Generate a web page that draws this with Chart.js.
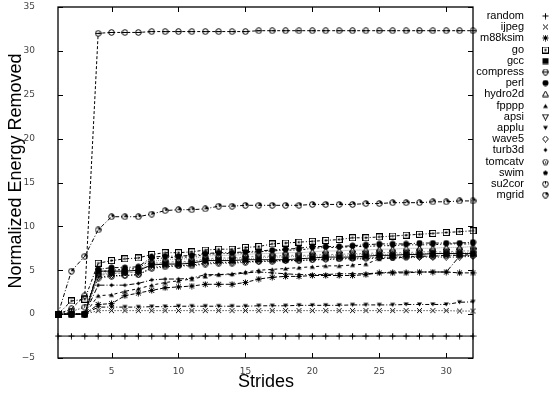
<!DOCTYPE html>
<html>
<head>
<meta charset="utf-8">
<script src="https://cdn.jsdelivr.net/npm/chart.js@4.4.1/dist/chart.umd.min.js"></script>
<style>
  html, body { margin: 0; padding: 0; background: #fff; }
</style>
</head>
<body>
<canvas id="chart" width="550" height="394"></canvas>
<script>
// Strides on the x axis
const strides = [1, 2, 3, 4, 5, 6, 7, 8, 9, 10, 11, 12, 13, 14, 15, 16,
  17, 18, 19, 20, 21, 22, 23, 24, 25, 26, 27, 28, 29, 30, 31, 32];
const xTickValues = [5, 10, 15, 20, 25, 30];

// Normalized energy removed, one array per benchmark
const random = [-2.5, -2.5, -2.5, -2.5, -2.5, -2.5, -2.5, -2.5, -2.5, -2.5, -2.5, -2.5, -2.5, -2.5, -2.5, -2.5,
  -2.5, -2.5, -2.5, -2.5, -2.5, -2.5, -2.5, -2.5, -2.5, -2.5, -2.5, -2.5, -2.5, -2.5, -2.5, -2.5];
const ijpeg = [0, 0, 0, 0.4, 0.4, 0.4, 0.4, 0.4, 0.4, 0.4, 0.4, 0.4, 0.4, 0.4, 0.4, 0.4,
  0.4, 0.4, 0.4, 0.4, 0.4, 0.4, 0.4, 0.4, 0.4, 0.4, 0.4, 0.4, 0.4, 0.4, 0.35, 0.35];
const m88ksim = [0, 0, 0, 1.1, 1.2, 2.1, 2.4, 2.7, 3.0, 3.1, 3.2, 3.4, 3.4, 3.4, 3.6, 4.0,
  4.2, 4.3, 4.3, 4.4, 4.4, 4.4, 4.4, 4.5, 4.7, 4.7, 4.7, 4.8, 4.8, 4.8, 4.7, 4.7];
const go = [0, 1.5, 1.7, 5.8, 6.1, 6.3, 6.4, 6.8, 7.0, 7.0, 7.1, 7.3, 7.4, 7.4, 7.6, 7.7,
  8.0, 8.1, 8.2, 8.3, 8.4, 8.5, 8.7, 8.7, 8.8, 8.9, 9.0, 9.1, 9.2, 9.3, 9.4, 9.5];
const gcc = [0, 0, 0, 4.9, 4.9, 4.9, 5.0, 5.6, 5.7, 5.7, 5.8, 6.1, 6.1, 6.1, 6.2, 6.2,
  6.2, 6.2, 6.3, 6.4, 6.5, 6.5, 6.5, 6.6, 6.7, 6.7, 6.8, 6.8, 6.9, 6.9, 6.9, 6.9];
const compress = [0, 0.6, 2.1, 32.0, 32.1, 32.1, 32.1, 32.2, 32.2, 32.2, 32.2, 32.2, 32.2, 32.2, 32.2, 32.3,
  32.3, 32.3, 32.3, 32.3, 32.3, 32.3, 32.3, 32.3, 32.3, 32.3, 32.3, 32.3, 32.3, 32.3, 32.3, 32.3];
const perl = [0, 0, 0, 5.1, 5.3, 5.3, 5.4, 6.5, 6.6, 6.6, 6.7, 6.9, 7.0, 7.0, 7.1, 7.2,
  7.3, 7.4, 7.5, 7.7, 7.7, 7.7, 7.8, 7.9, 8.0, 8.0, 8.0, 8.1, 8.1, 8.1, 8.1, 8.2];
const hydro2d = [0, 0, 0, 4.6, 4.8, 4.9, 5.0, 6.0, 6.2, 6.3, 6.3, 6.6, 6.7, 6.7, 6.8, 6.9,
  6.9, 7.0, 7.0, 7.1, 7.2, 7.2, 7.3, 7.3, 7.4, 7.4, 7.5, 7.5, 7.5, 7.6, 7.6, 7.7];
const fpppp = [0, 0, 0, 2.1, 2.2, 2.6, 2.9, 3.3, 3.6, 3.8, 4.0, 4.3, 4.5, 4.6, 4.8, 5.0,
  5.1, 5.2, 5.3, 5.4, 5.5, 5.5, 5.6, 5.7, 6.3, 6.4, 6.5, 6.6, 6.6, 6.7, 6.7, 6.8];
const apsi = [0, 0, 0, 4.4, 4.6, 4.7, 4.8, 5.8, 5.9, 6.0, 6.0, 6.3, 6.4, 6.4, 6.5, 6.6,
  6.6, 6.7, 6.7, 6.7, 6.8, 6.8, 6.9, 6.9, 7.0, 7.0, 7.0, 7.1, 7.1, 7.1, 7.2, 7.2];
const applu = [0, 0, 0, 0.8, 0.8, 0.8, 0.8, 0.85, 0.85, 0.9, 0.9, 0.9, 0.9, 0.9, 0.9, 0.95,
  0.95, 0.95, 1.0, 1.0, 1.0, 1.0, 1.05, 1.05, 1.05, 1.05, 1.1, 1.1, 1.1, 1.1, 1.35, 1.4];
const wave5 = [0, 0, 0, 4.2, 4.4, 4.4, 4.5, 5.3, 5.5, 5.5, 5.6, 5.8, 5.9, 5.9, 6.0, 6.0,
  6.1, 6.1, 6.1, 6.2, 6.2, 6.3, 6.3, 6.3, 6.4, 6.4, 6.4, 6.5, 6.5, 6.5, 6.5, 6.6];
const turb3d = [0, 0, 0, 3.3, 3.3, 3.3, 3.5, 3.9, 4.0, 4.0, 4.1, 4.5, 4.5, 4.5, 4.7, 4.8,
  4.7, 4.6, 4.5, 4.5, 4.5, 4.6, 4.6, 4.6, 4.7, 4.8, 4.8, 4.8, 4.8, 4.8, 6.6, 6.7];
const tomcatv = [0, 0, 0, 4.5, 4.7, 4.7, 4.8, 5.7, 5.8, 5.8, 5.9, 6.2, 6.2, 6.3, 6.3, 6.4,
  6.5, 6.5, 6.6, 6.6, 6.6, 6.7, 6.7, 6.8, 6.8, 6.8, 6.9, 6.9, 6.9, 7.0, 7.0, 7.0];
const swim = [0, 0, 0, 4.8, 5.0, 5.1, 5.2, 6.3, 6.4, 6.5, 6.5, 6.8, 6.9, 6.9, 7.0, 7.1,
  7.2, 7.3, 7.3, 7.5, 7.6, 7.6, 7.7, 7.7, 7.8, 7.8, 7.9, 7.9, 7.9, 8.0, 8.0, 8.0];
const su2cor = [0, 0.3, 0.8, 4.1, 4.3, 4.4, 4.5, 5.2, 5.4, 5.5, 5.5, 5.7, 5.8, 5.8, 5.9, 6.0,
  6.0, 6.1, 6.1, 6.2, 6.3, 6.3, 6.4, 6.4, 6.5, 6.5, 6.6, 6.6, 6.6, 6.7, 6.7, 6.7];
const mgrid = [0, 4.9, 6.6, 9.6, 11.1, 11.1, 11.1, 11.4, 11.8, 11.9, 11.9, 12.0, 12.3, 12.3, 12.4, 12.4,
  12.4, 12.4, 12.4, 12.5, 12.5, 12.5, 12.5, 12.6, 12.6, 12.7, 12.7, 12.7, 12.8, 12.8, 12.9, 12.9];

// Build a small gnuplot-like marker glyph on its own canvas
function makeMarker(kind) {
  const c = document.createElement('canvas');
  c.width = 7; c.height = 7;
  const g = c.getContext('2d');
  g.strokeStyle = '#000';
  g.fillStyle = '#000';
  g.lineWidth = 1;
  const line = (x1, y1, x2, y2) => { g.beginPath(); g.moveTo(x1, y1); g.lineTo(x2, y2); g.stroke(); };
  const poly = (pts, fill) => {
    g.beginPath();
    pts.forEach((p, i) => i ? g.lineTo(p[0], p[1]) : g.moveTo(p[0], p[1]));
    g.closePath();
    fill ? g.fill() : g.stroke();
  };
  const circle = (r, fill) => { g.beginPath(); g.arc(3.5, 3.5, r, 0, Math.PI * 2); fill ? g.fill() : g.stroke(); };
  const pent = (r) => {
    const pts = [];
    for (let i = 0; i < 5; i++) {
      const a = -Math.PI / 2 + i * 2 * Math.PI / 5;
      pts.push([3.5 + r * Math.cos(a), 3.5 + r * Math.sin(a)]);
    }
    return pts;
  };
  switch (kind) {
    case 'plus': line(3.5, 0.5, 3.5, 6.5); line(0.5, 3.5, 6.5, 3.5); break;
    case 'cross': line(1, 1, 6, 6); line(6, 1, 1, 6); break;
    case 'star': line(1, 1, 6, 6); line(6, 1, 1, 6); line(3.5, 0.5, 3.5, 6.5); line(0.5, 3.5, 6.5, 3.5); break;
    case 'boxDot': g.strokeRect(0.5, 0.5, 6, 6); g.fillRect(2.5, 2.5, 2, 2); break;
    case 'boxFill': g.fillRect(0.5, 0.5, 6, 6); break;
    case 'circleBar': circle(2.8, false); line(0.5, 3.5, 6.5, 3.5); break;
    case 'circleFill': circle(3, true); break;
    case 'triOpen': poly([[3.5, 0.5], [6.5, 6], [0.5, 6]], false); break;
    case 'triFill': poly([[3.5, 1.5], [6, 5.5], [1, 5.5]], true); break;
    case 'triDownOpen': poly([[0.5, 1], [6.5, 1], [3.5, 6.5]], false); break;
    case 'triDownFill': poly([[1, 1.5], [6, 1.5], [3.5, 5.5]], true); break;
    case 'diamondOpen': poly([[3.5, 0.5], [6.5, 3.5], [3.5, 6.5], [0.5, 3.5]], false); break;
    case 'diamondFill': poly([[3.5, 1.5], [5.5, 3.5], [3.5, 5.5], [1.5, 3.5]], true); break;
    case 'pentOpen': poly(pent(2.9), false); g.fillRect(3, 3, 1.2, 1.2); break;
    case 'pentFill': poly(pent(2.6), true); break;
    case 'circleTick': circle(2.8, false); line(3.5, 0.5, 3.5, 3.5); break;
    case 'circleQuarter':
      circle(2.8, false);
      g.beginPath(); g.moveTo(3.5, 3.5); g.arc(3.5, 3.5, 2.8, -Math.PI / 2, 0); g.closePath(); g.fill();
      break;
  }
  return c;
}

// name, values, marker, line colour, dash pattern
const seriesDefs = [
  ['random', random, 'plus', '#000', []],
  ['ijpeg', ijpeg, 'cross', '#000', [1, 2]],
  ['m88ksim', m88ksim, 'star', '#000', [4, 2]],
  ['go', go, 'boxDot', '#000', [1, 2, 3, 2]],
  ['gcc', gcc, 'boxFill', '#000', []],
  ['compress', compress, 'circleBar', '#000', [3, 2]],
  ['perl', perl, 'circleFill', '#000', [4, 2, 1, 2]],
  ['hydro2d', hydro2d, 'triOpen', '#999', [1, 1]],
  ['fpppp', fpppp, 'triFill', '#000', [3, 3]],
  ['apsi', apsi, 'triDownOpen', '#888', [2, 2]],
  ['applu', applu, 'triDownFill', '#000', [4, 2, 1, 2]],
  ['wave5', wave5, 'diamondOpen', '#000', [1, 2]],
  ['turb3d', turb3d, 'diamondFill', '#000', [5, 2, 1, 2]],
  ['tomcatv', tomcatv, 'pentOpen', '#999', [1, 1]],
  ['swim', swim, 'pentFill', '#000', [2, 2, 1, 2]],
  ['su2cor', su2cor, 'circleTick', '#000', [1, 2]],
  ['mgrid', mgrid, 'circleQuarter', '#000', [4, 2, 1, 2]]
];

const datasets = seriesDefs.map(([name, values, mk, color, dash]) => ({
  label: name,
  data: strides.map((s, i) => ({ x: s, y: values[i] })),
  borderColor: color,
  borderWidth: 1,
  borderDash: dash,
  pointStyle: makeMarker(mk),
  pointRadius: 3.5,
  tension: 0,
  fill: false,
  clip: false
}));

// Frame, inward tick marks, y tick labels, axis titles and the right-hand legend
const framePlugin = {
  id: 'frame',
  afterDraw(chart) {
    const { ctx, chartArea: a, scales: { x, y } } = chart;
    ctx.save();
    ctx.strokeStyle = '#000';
    ctx.lineWidth = 1.3;
    ctx.strokeRect(a.left, a.top, a.right - a.left, a.bottom - a.top);
    ctx.lineWidth = 1;
    ctx.beginPath();
    xTickValues.forEach(v => {
      const px = Math.round(x.getPixelForValue(v)) + 0.5;
      ctx.moveTo(px, a.bottom); ctx.lineTo(px, a.bottom - 5);
      ctx.moveTo(px, a.top); ctx.lineTo(px, a.top + 5);
    });
    y.ticks.forEach(t => {
      const py = Math.round(y.getPixelForValue(t.value)) + 0.5;
      ctx.moveTo(a.left, py); ctx.lineTo(a.left + 5, py);
      ctx.moveTo(a.right, py); ctx.lineTo(a.right - 5, py);
    });
    ctx.stroke();

    // y tick labels, right-aligned well away from the axis
    ctx.font = '9px "DejaVu Sans", sans-serif';
    ctx.fillStyle = '#444';
    ctx.textAlign = 'right';
    ctx.textBaseline = 'middle';
    y.ticks.forEach(t => {
      ctx.fillText(String(t.value).replace('-', '\u2212'), 35, y.getPixelForValue(t.value));
    });

    // axis titles
    ctx.fillStyle = '#000';
    ctx.font = '18px "Liberation Sans", Arial, sans-serif';
    ctx.textAlign = 'center';
    ctx.fillText('Strides', 266, 382);
    ctx.save();
    ctx.translate(16, 171);
    ctx.rotate(-Math.PI / 2);
    ctx.fillText('Normalized Energy Removed', 0, 0);
    ctx.restore();

    // legend: names right-aligned, marker to the right
    ctx.font = '11px "Liberation Sans", Arial, sans-serif';
    ctx.textAlign = 'right';
    chart.data.datasets.forEach((ds, i) => {
      const ly = 16 + i * 11.2;
      ctx.fillText(ds.label, 524, ly);
      ctx.drawImage(ds.pointStyle, 542, Math.round(ly) - 3.5);
    });
    ctx.restore();
  }
};

const tickFont = { family: '"DejaVu Sans", sans-serif', size: 9 };

new Chart(document.getElementById('chart'), {
  type: 'line',
  data: { datasets: datasets },
  options: {
    responsive: false,
    animation: false,
    layout: { padding: { top: 7, right: 77, left: 0, bottom: 0 } },
    plugins: { legend: { display: false }, tooltip: { enabled: false } },
    scales: {
      x: {
        type: 'linear',
        min: 1,
        max: 32,
        grid: { display: false, drawTicks: false },
        border: { display: false },
        afterBuildTicks: s => { s.ticks = xTickValues.map(v => ({ value: v })); },
        afterFit: s => { s.height = 36; },
        ticks: { padding: 8, font: tickFont, color: '#444', maxRotation: 0 }
      },
      y: {
        min: -5,
        max: 35,
        grid: { display: false, drawTicks: false },
        border: { display: false },
        afterFit: s => { s.width = 58; },
        ticks: { stepSize: 5, display: false }
      }
    }
  },
  plugins: [framePlugin]
});
</script>
</body>
</html>
